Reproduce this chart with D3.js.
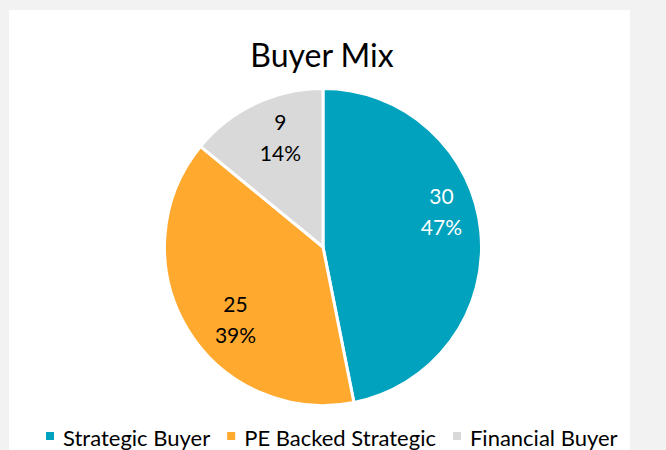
<!DOCTYPE html>
<html>
<head>
<meta charset="utf-8">
<script src="https://cdn.jsdelivr.net/npm/d3@7"></script>
<style>
	body { margin: 0; background: #f2f2f2; }
	svg { display: block; }
	text { font-family: Lato, "Open Sans", sans-serif; }
</style>
</head>
<body>
<svg id="chart" width="666" height="450"></svg>
<script>
var categories = ["Strategic Buyer", "PE Backed Strategic", "Financial Buyer"];
var values = [30, 25, 9];
var colors = ["#00a2bd", "#ffa92f", "#d9d9d9"];
var labelColors = ["#ffffff", "#000000", "#000000"];

var WIDTH = 666, HEIGHT = 450;
var CX = 323, CY = 247, R = 158.5;

// nudges so labels sit where the original's best-fit put them (degrees, radius fraction)
var labelNudge = [[-11, 0.78], [-9, 0.72], [4, 0.74]];

var svg = d3.select("#chart");

// white chart panel
svg.append("rect").attr("x", 9).attr("y", 10).attr("width", 621).attr("height", HEIGHT)
	.attr("fill", "#ffffff");

svg.append("text").attr("x", 322).attr("y", 67).attr("text-anchor", "middle")
	.attr("font-size", 32).attr("fill", "#000").text("Buyer Mix");

var total = d3.sum(values);
var pie = d3.pie().sort(null).value(function(d) { return d; });
var arcs = pie(values);
var arc = d3.arc().innerRadius(0).outerRadius(R);

var g = svg.append("g").attr("transform", "translate(" + CX + "," + CY + ")");

g.selectAll("path.slice").data(arcs).enter().append("path")
	.attr("class", "slice")
	.attr("d", arc)
	.attr("fill", function(d, i) { return colors[i]; })
	.attr("stroke", "#ffffff")
	.attr("stroke-width", 3)
	.attr("stroke-linejoin", "round");

var labels = g.selectAll("g.label").data(arcs).enter().append("g")
	.attr("class", "label")
	.attr("transform", function(d, i) {
		var a = (d.startAngle + d.endAngle) / 2 + labelNudge[i][0] * Math.PI / 180;
		var r = R * labelNudge[i][1];
		return "translate(" + (r * Math.sin(a)) + "," + (-r * Math.cos(a)) + ")";
	});

labels.append("text").attr("text-anchor", "middle").attr("y", -8)
	.attr("font-size", 21)
	.attr("fill", function(d, i) { return labelColors[i]; })
	.text(function(d) { return d.data; });

labels.append("text").attr("text-anchor", "middle").attr("y", 23)
	.attr("font-size", 21)
	.attr("fill", function(d, i) { return labelColors[i]; })
	.text(function(d) { return Math.round(d.data / total * 100) + "%"; });

// legend
var legend = svg.append("g").attr("transform", "translate(46,446)");
var lx = 0;
categories.forEach(function(c, i) {
	var item = legend.append("g").attr("transform", "translate(" + lx + ",0)");
	item.append("rect").attr("x", 0).attr("y", -14).attr("width", 8).attr("height", 8)
		.attr("fill", colors[i]);
	var t = item.append("text").attr("x", 17).attr("y", 0)
		.attr("font-size", 22).attr("fill", "#000").text(c);
	lx += 17 + t.node().getComputedTextLength() + 17;
});
</script>
</body>
</html>
